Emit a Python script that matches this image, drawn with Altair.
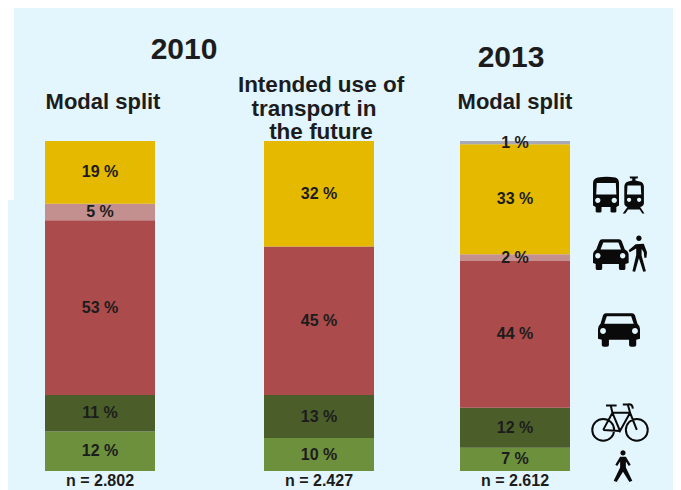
import altair as alt
import pandas as pd

FONT = "Liberation Sans"
INK = "#1c1c1c"
BG = "#E3F5FD"

# ---- values
columns = ["2010 modal split", "Intended use", "2013 modal split"]
modes = ["Walking", "Cycling", "Car", "Car and public transport", "Public transport"]
mode_colors = ["#6C903C", "#4B5E2A", "#AB4B4B", "#C48F8F", "#E5B900"]
values_2010 = [12, 11, 53, 5, 19]
values_future = [10, 13, 45, None, 32]
values_2013 = [7, 12, 44, 2, 33]
other_2013 = 1
sample_labels = ["n = 2.802", "n = 2.427", "n = 2.612"]

rows = []
for col, vals in zip(columns, [values_2010, values_future, values_2013]):
    for i, (m, v) in enumerate(zip(modes, vals)):
        if v is not None:
            rows.append({"column": col, "mode": m, "order": i, "pct": v})
rows.append({"column": columns[2], "mode": "Other", "order": 5, "pct": other_2013})
df = pd.DataFrame(rows)

W, H = 665, 482
# Column centres are unevenly spaced in the figure
centre_expr = (
    f"datum.column === '{columns[0]}' ? 92 : datum.column === '{columns[1]}' ? 311 : 507"
)
x_scale = alt.Scale(domain=[0, W], range=[0, W], padding=0)
y_scale = alt.Scale(domain=[0, 1], range=[463, 133])
color_scale = alt.Scale(domain=modes + ["Other"], range=mode_colors + ["#A9A9B5"])

base = (
    alt.Chart(df)
    .transform_stack(
        stack="pct", groupby=["column"], sort=[{"field": "order", "order": "ascending"}],
        as_=["y0", "y1"], offset="normalize",
    )
    .transform_calculate(mid="(datum.y0 + datum.y1) / 2", label="datum.pct + ' %'", centre=centre_expr)
)
x_enc = alt.X("centre:Q", scale=x_scale, axis=None)

bars = base.mark_bar(size=110).encode(
    x=x_enc,
    y=alt.Y("y0:Q", scale=y_scale, axis=None),
    y2="y1:Q",
    color=alt.Color("mode:N", scale=color_scale, legend=None),
)
labels = base.mark_text(font=FONT, fontWeight="bold", fontSize=16, color=INK, baseline="middle").encode(
    x=x_enc, y=alt.Y("mid:Q", scale=y_scale, axis=None), text="label:N"
)
samples = (
    alt.Chart(pd.DataFrame({"column": columns, "n": sample_labels}))
    .transform_calculate(centre=centre_expr)
    .mark_text(font=FONT, fontWeight="bold", fontSize=16, color=INK, baseline="middle")
    .encode(x=x_enc, y=alt.value(473), text="n:N")
)


def title(text, x, y, size, align="center"):
    return (
        alt.Chart(pd.DataFrame({"t": [text]}))
        .mark_text(font=FONT, fontWeight="bold", fontSize=size, color=INK, baseline="middle", align=align)
        .encode(x=alt.value(x), y=alt.value(y), text="t:N")
    )


titles = [
    title("2010", 176, 42, 30),
    title("2013", 503, 50, 30),
    title("Modal split", 95, 94, 22),
    title("Modal split", 507, 94, 22),
    title("Intended use of", 313, 77, 22.5),
    title("transport in", 306, 101, 22.5),
    title("the future", 313, 124, 22.5),
]

# White corner of the scanned figure
corner = alt.Chart(pd.DataFrame({"a": [0]})).mark_rect(color="white").encode(
    x=alt.value(0), x2=alt.value(6), y=alt.value(0), y2=alt.value(192)
)

# ---- icons: symbol shapes in a -1..1 box
CAR = (
    "M-.62,-.8 L.62,-.8 Q.72,-.8 .76,-.7 L.88,-.3 Q1,-.2 1,-.05 L1,.42 L.82,.46 L.82,.72 Q.82,.8 .72,.8 "
    "L.58,.8 Q.48,.8 .48,.72 L.48,.46 L-.48,.46 L-.48,.72 Q-.48,.8 -.58,.8 L-.72,.8 Q-.82,.8 -.82,.72 "
    "L-.82,.46 L-1,.42 L-1,-.05 Q-1,-.2 -.88,-.3 L-.76,-.7 Q-.72,-.8 -.62,-.8 Z "
    "M-.58,-.66 L-.7,-.3 L.7,-.3 L.58,-.66 Z "
    "M-.9,.05 a.14,.14 0 1 0 .28,0 a.14,.14 0 1 0 -.28,0 Z "
    "M.62,.05 a.14,.14 0 1 0 .28,0 a.14,.14 0 1 0 -.28,0 Z"
)
BUS_TRAIN = (
    "M-.8,-.66 Q-.47,-.72 -.14,-.66 Q-.0,-.62 0,-.45 L0,.4 L-.1,.45 L-.1,.62 Q-.1,.66 -.16,.66 L-.26,.66 Q-.32,.66 -.32,.62 "
    "L-.32,.45 L-.66,.45 L-.66,.62 Q-.66,.66 -.72,.66 L-.82,.66 Q-.88,.66 -.88,.62 L-.88,.45 L-.98,.4 L-.98,-.45 Q-.98,-.62 -.8,-.66 Z "
    "M-.84,-.45 L-.86,-.02 L-.1,-.02 L-.12,-.45 Z "
    "M-.9,.2 a.1,.1 0 1 0 .2,0 a.1,.1 0 1 0 -.2,0 Z "
    "M-.28,.2 a.1,.1 0 1 0 .2,0 a.1,.1 0 1 0 -.2,0 Z "
    "M.4,-.7 L.72,-.7 L.7,-.62 L.62,-.62 L.62,-.55 L.82,-.5 Q.94,-.45 .94,-.3 L.94,.3 Q.94,.42 .8,.45 L.96,.7 L.88,.7 L.78,.55 L.34,.55 L.24,.7 L.14,.7 L.32,.45 "
    "Q.2,.42 .2,.3 L.2,-.3 Q.2,-.45 .32,-.5 L.5,-.55 L.5,-.62 L.42,-.62 Z "
    "M.32,-.36 L.3,-.02 L.84,-.02 L.82,-.36 Z "
    "M.3,.18 a.08,.08 0 1 0 .16,0 a.08,.08 0 1 0 -.16,0 Z "
    "M.68,.18 a.08,.08 0 1 0 .16,0 a.08,.08 0 1 0 -.16,0 Z"
)
CAR_WALK = (
    "M-.66,-.58 L-.04,-.58 Q.04,-.58 .07,-.5 L.18,-.2 Q.32,-.14 .32,0 L.32,.3 L.2,.33 L.2,.5 Q.2,.56 .13,.56 L.03,.56 Q-.04,.56 -.04,.5 "
    "L-.04,.33 L-.66,.33 L-.66,.5 Q-.66,.56 -.73,.56 L-.83,.56 Q-.9,.56 -.9,.5 L-.9,.33 L-1,.3 L-1,0 Q-1,-.14 -.88,-.2 L-.77,-.5 Q-.74,-.58 -.66,-.58 Z "
    "M-.62,-.46 L-.72,-.2 L.04,-.2 L-.06,-.46 Z "
    "M-.92,.03 a.1,.1 0 1 0 .2,0 a.1,.1 0 1 0 -.2,0 Z "
    "M0,.03 a.1,.1 0 1 0 .2,0 a.1,.1 0 1 0 -.2,0 Z "
    "M.6,-.62 a.1,.1 0 1 1 .2,0 a.1,.1 0 1 1 -.2,0 Z "
    "M.58,-.4 L.88,-.42 L1,-.1 L.98,.1 L.9,.1 L.88,-.1 L.8,-.22 L.8,.02 L.96,.6 L.86,.62 L.7,.12 L.56,.62 L.46,.6 L.6,.0 L.6,-.24 L.36,-.1 L.32,-.18 Z"
)
BIKE = (
    "M-.99,.21 a.39,.39 0 1 0 .78,0 a.39,.39 0 1 0 -.78,0 Z "
    "M.21,.21 a.39,.39 0 1 0 .78,0 a.39,.39 0 1 0 -.78,0 Z "
    "M-.6,.21 L-.27,-.4 L.36,-.4 L.6,.21 M-.27,-.4 L0,.25 L.36,-.4 M-.6,.21 L0,.25 "
    "M-.27,-.4 L-.33,-.65 M-.5,-.66 L-.12,-.66 M.36,-.4 L.28,-.7 L.1,-.7 M.28,-.7 Q.44,-.74 .46,-.55"
)
WALKER = (
    "M-.16,-.82 a.16,.16 0 1 1 .32,0 a.16,.16 0 1 1 -.32,0 Z "
    "M-.18,-.58 L.18,-.58 L.48,-.08 L.36,0 L.18,-.28 L.18,.1 L.58,.92 L.4,1 L0,.36 L-.4,1 L-.58,.92 L-.18,.1 L-.18,-.28 L-.36,0 L-.48,-.08 Z"
)


def icon(path, cx, cy, width, filled=True):
    chart = alt.Chart(pd.DataFrame({"a": [0]})).mark_point(
        shape=path, size=width * width, filled=filled, opacity=1,
        color="#0a0a0a", strokeWidth=2 if not filled else 0,
    )
    return chart.encode(x=alt.value(cx), y=alt.value(cy))


icons = [
    icon(BUS_TRAIN, 611, 187, 53),
    icon(CAR_WALK, 612, 247, 54),
    icon(CAR, 611, 322, 42),
    icon(BIKE, 612, 416, 56, filled=False),
    icon(WALKER, 615, 458, 32),
]

chart = (
    alt.layer(corner, bars, labels, samples, *titles, *icons)
    .properties(width=W, height=H, background=BG, padding=0)
    .configure_view(stroke=None)
)
chart.save("out.html", embed_options={"renderer": "svg", "actions": False})
